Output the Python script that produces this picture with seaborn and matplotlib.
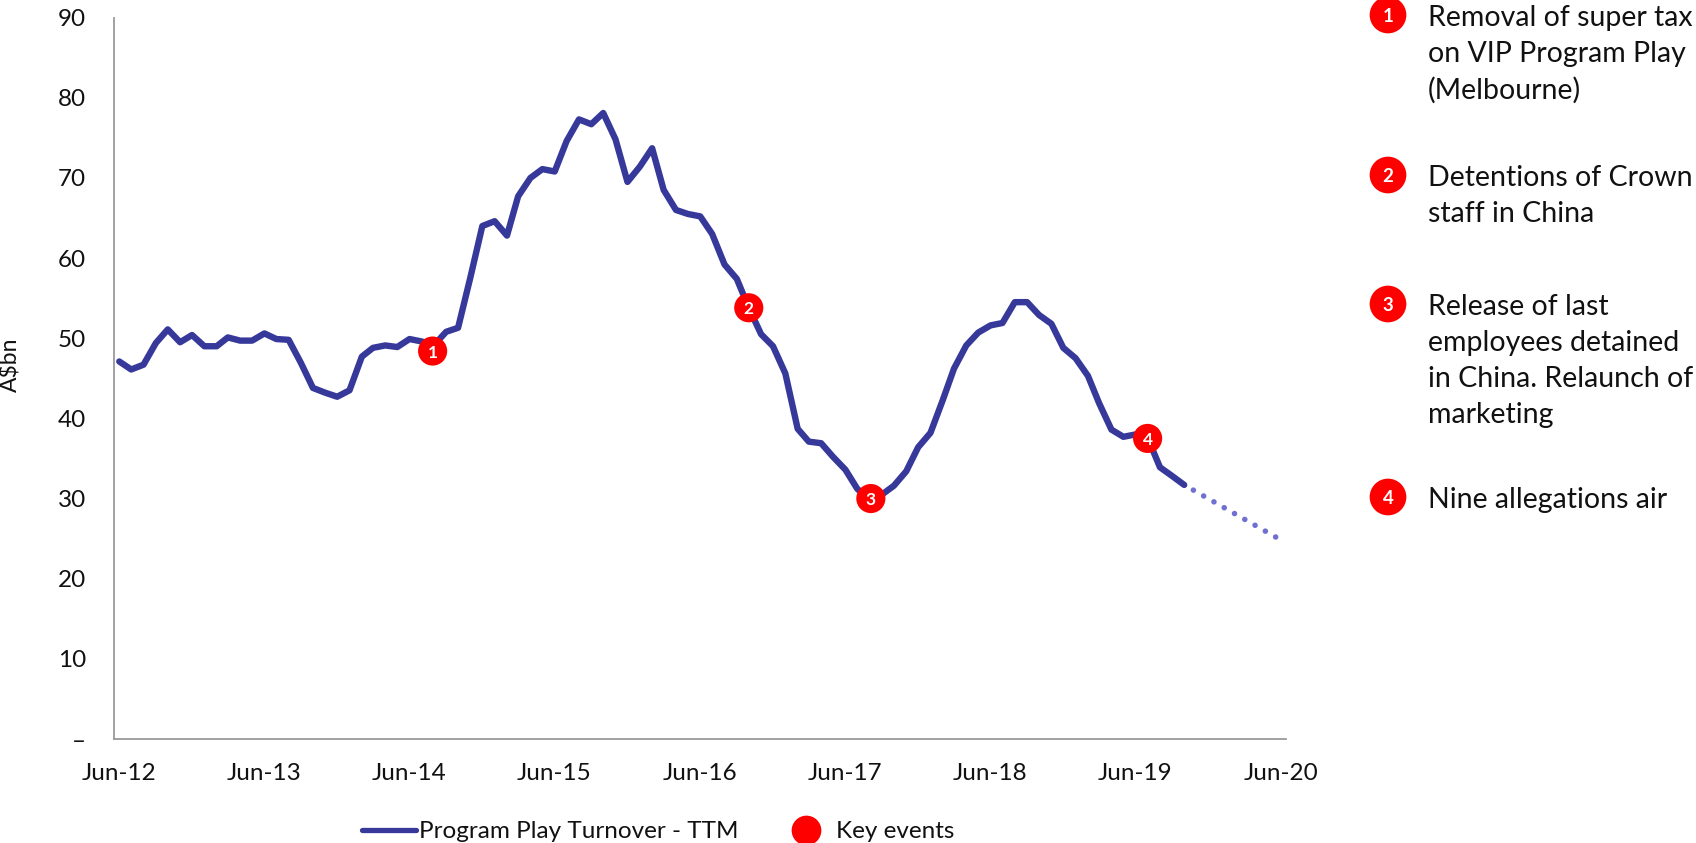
import numpy as np
import pandas as pd
import matplotlib
matplotlib.use("Agg")
import matplotlib.pyplot as plt
import matplotlib.transforms as mtransforms
from matplotlib.lines import Line2D
import seaborn as sns

# Program Play turnover, trailing twelve months (A$bn), monthly Jun-12 .. Oct-19
turnover = [47.1, 46.1, 46.7, 49.4, 51.1, 49.5, 50.4, 49.0, 49.0, 50.1, 49.7, 49.7,
            50.6, 49.9, 49.8, 46.9, 43.8, 43.2, 42.7, 43.5, 47.7, 48.8, 49.1, 48.9,
            49.9, 49.6, 49.1, 50.8, 51.3, 57.6, 64.0, 64.6, 62.8, 67.7, 70.0, 71.1,
            70.8, 74.6, 77.3, 76.7, 78.1, 74.8, 69.5, 71.4, 73.7, 68.5, 66.0, 65.5,
            65.2, 63.0, 59.2, 57.4, 53.8, 50.5, 49.0, 45.6, 38.7, 37.1, 36.9, 35.2,
            33.6, 31.2, 29.9, 30.5, 31.6, 33.4, 36.4, 38.2, 42.3, 46.2, 49.1, 50.7,
            51.6, 51.9, 54.5, 54.5, 52.9, 51.8, 48.8, 47.5, 45.3, 41.9, 38.6, 37.7,
            38.0, 37.6, 33.9, 32.8, 31.7]
dates = pd.date_range("2012-06-01", periods=len(turnover), freq="MS") + pd.Timedelta(days=14)

# Projected run-rate, Jun-20 back to the last actual (drawn from the far end
# so the dot pattern starts on the Jun-20 point)
proj_dates = pd.to_datetime(["2020-06-01", "2019-10-15"])
proj_values = [25.2, 31.7]

# Key events
event_ids = ["1", "2", "3", "4"]
event_dates = pd.to_datetime(["2014-08-12", "2016-10-15", "2017-08-18", "2019-07-15"])
event_values = [48.4, 53.8, 30.0, 37.5]
event_notes = [
    "Removal of super tax\non VIP Program Play\n(Melbourne)",
    "Detentions of Crown\nstaff in China",
    "Release of last\nemployees detained\nin China. Relaunch of\nmarketing",
    "Nine allegations air",
]

x_tick_dates = pd.to_datetime([f"20{y}-06-01" for y in range(12, 21)])
x_tick_labels = [f"Jun-{y}" for y in range(12, 21)]
y_ticks = list(range(0, 91, 10))
y_tick_labels = ["\u2013"] + [str(v) for v in y_ticks[1:]]

LINE = "#37399a"
PROJ = "#6f70cf"
RED = "#FF0000"
TEXT = "#111111"
AXIS = "#9a9a9a"

sns.set_style("white")
plt.rcParams["font.family"] = ["Lato", "DejaVu Sans"]

W, H = 1696, 843
fig = plt.figure(figsize=(W / 100, H / 100), dpi=100)
ax = fig.add_axes([113.7 / W, 1 - 739 / H, (1286 - 113.7) / W, (739 - 17.6) / H])

sns.lineplot(x=dates, y=turnover, ax=ax, color=LINE, lw=4.6, errorbar=None,
             solid_joinstyle="round", solid_capstyle="round", zorder=3)
sns.lineplot(x=proj_dates, y=proj_values, ax=ax, color=PROJ, lw=4.0, errorbar=None,
             sort=False, linestyle=(0, (0.01, 2.12)), dash_capstyle="round", zorder=2)
sns.scatterplot(x=event_dates, y=event_values, ax=ax, s=440, color=RED,
                edgecolor="none", zorder=5, legend=False)
for d, v, lab in zip(event_dates, event_values, event_ids):
    ax.text(d, v, lab, ha="center", va="center_baseline", color="white",
            fontweight="bold", fontsize=12.5, zorder=6)

ax.set_ylim(0, 90)
ax.set_yticks(y_ticks)
ax.set_yticklabels(y_tick_labels)
ax.set_xlim(pd.Timestamp("2012-06-01"), pd.Timestamp("2020-06-27"))
ax.set_xticks(x_tick_dates)
ax.set_xticklabels(x_tick_labels)
ax.set_xlabel("")
ax.set_ylabel("")

sns.despine(ax=ax)
for side in ("left", "bottom"):
    ax.spines[side].set_color(AXIS)
    ax.spines[side].set_linewidth(1.3)
ax.tick_params(axis="both", direction="out", length=6, width=1.2, color=AXIS,
               labelsize=17.5, labelcolor=TEXT)
ax.tick_params(axis="y", pad=14)
ax.tick_params(axis="x", pad=11)
shift = mtransforms.ScaledTranslation(5 / 100, 0, fig.dpi_scale_trans)
for lbl in ax.get_xticklabels():
    lbl.set_transform(lbl.get_transform() + shift)

# Vertical unit label at the far left
fig.text(10 / W, 1 - 365 / H, "A$bn", rotation=90, ha="center", va="center",
         fontsize=16.5, color=TEXT)

# Legend under the plot
handles = [Line2D([], [], color=LINE, lw=3.8),
           Line2D([], [], ls="none", marker="o", ms=21.4, mfc=RED, mec="none")]
fig.legend(handles, ["Program Play Turnover - TTM", "Key events"], loc="center",
           bbox_to_anchor=(0.388, 1 - 831.7 / H), ncol=2, frameon=False,
           fontsize=17.5, handlelength=2.2, handletextpad=0.12, columnspacing=1.69,
           borderpad=0, borderaxespad=0, labelcolor=TEXT)

# Event notes on the right, in pixel coordinates
notes = fig.add_axes([0, 0, 1, 1])
notes.set_axis_off()
notes.set_xlim(0, W)
notes.set_ylim(H, 0)
note_y = [15, 175, 304, 497]
notes.scatter([1388] * len(note_y), note_y, s=(36.7 * 0.72) ** 2, color=RED,
              edgecolor="none")
for y, lab, txt in zip(note_y, event_ids, event_notes):
    notes.text(1388, y, lab, ha="center", va="center_baseline", color="white",
               fontweight="bold", fontsize=13.5)
    notes.text(1428, y - 10, txt, ha="left", va="top", fontsize=20.5, color=TEXT,
               linespacing=1.47)

fig.savefig("out.png", dpi=100)
